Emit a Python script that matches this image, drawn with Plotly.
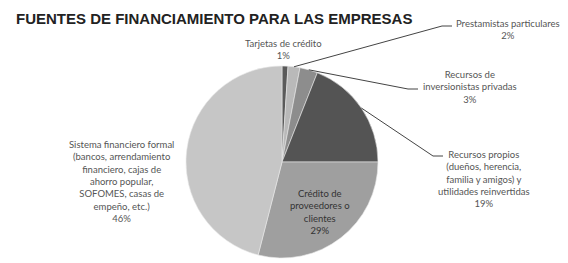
import math
import plotly.graph_objects as go

categories = [
    "Tarjetas de crédito",
    "Prestamistas particulares",
    "Recursos de<br>inversionistas privadas",
    "Recursos propios<br>(dueños, herencia,<br>familia y amigos) y<br>utilidades reinvertidas",
    "Crédito de<br>proveedores o<br>clientes",
    "Sistema financiero formal<br>(bancos, arrendamiento<br>financiero, cajas de<br>ahorro popular,<br>SOFOMES, casas de<br>empeño, etc.)",
]
values = [1, 2, 3, 19, 29, 46]
colors = ["#5a5a5a", "#b9b9b9", "#8d8d8d", "#545454", "#9f9f9f", "#c6c6c6"]

W, H = 568, 263
cx, cy, R = 282, 162, 96

fig = go.Figure(go.Pie(
    labels=categories, values=values, sort=False, direction="clockwise",
    rotation=0, textinfo="none", hoverinfo="label+percent",
    marker=dict(colors=colors, line=dict(color="#e8e8e8", width=0.6)),
    domain=dict(x=[(cx - R) / W, (cx + R) / W], y=[(H - cy - R) / H, (H - cy + R) / H]),
    showlegend=False,
))

def px(x):
    return x / W

def py(y):
    return 1 - y / H

# label layout (pixel positions of label centres) and elbow points
label_pos = [
    (283, 49, None),
    (508, 30, (442, 26, 452)),
    (470, 87, (408, 89, 418)),
    (484, 179, (433, 156, 443)),
    (320, 212, None),
    (121, 181, None),
]

total = sum(values)
cum = 0
annotations = []
shapes = []
for i, (lab, v) in enumerate(zip(categories, values)):
    mid = (cum + v / 2) / total * 2 * math.pi
    cum += v
    pct = f"{round(v / total * 100)}%"
    lx, ly, elbow = label_pos[i]
    inside = i == 4
    annotations.append(dict(
        x=px(lx), y=py(ly), xref="paper", yref="paper", showarrow=False,
        xanchor="center", yanchor="middle",
        text=f"{lab}<br>{pct}", align="center",
        font=dict(family="Lato, sans-serif", size=9.5, color="#333333" if inside else "#555555"),
    ))
    if elbow:
        sx = cx + R * 1.0 * math.sin(mid)
        sy = cy - R * 1.0 * math.cos(mid)
        ex, ey, hx = elbow
        shapes.append(dict(
            type="path", xref="paper", yref="paper",
            path=f"M {px(sx)},{py(sy)} L {px(ex)},{py(ey)} L {px(hx)},{py(ey)}",
            line=dict(color="#444444", width=1),
        ))

annotations.append(dict(
    x=px(14), y=py(19), xref="paper", yref="paper", xanchor="left", yanchor="middle",
    showarrow=False, text="<b>FUENTES DE FINANCIAMIENTO PARA LAS EMPRESAS</b>",
    font=dict(family="Liberation Sans, Arial, sans-serif", size=15, color="#222222"),
))

fig.update_layout(
    width=W, height=H, margin=dict(l=0, r=0, t=0, b=0),
    paper_bgcolor="white", plot_bgcolor="white",
    annotations=annotations, shapes=shapes,
)

fig.write_html("out.html", config={"displayModeBar": False},
               post_script="document.body.style.margin='0';")
